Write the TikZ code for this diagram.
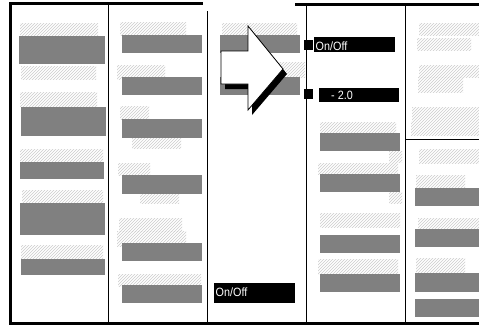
\documentclass[tikz,border=0pt]{standalone}
\usepackage{fontspec}
\newfontfamily\uifont[FakeStretch=0.9]{Liberation Sans}
\usetikzlibrary{patterns}
\definecolor{boxgray}{HTML}{808080}
\tikzset{
  gbox/.style={fill=boxgray},
  hbox/.style={pattern=north east lines, pattern color=black!20},
  frameline/.style={fill=black},
  colline/.style={draw=black, line width=1.5pt},
  lbl/.style={font=\uifont\fontsize{12}{14}\selectfont, text=white, inner sep=0pt},
}
\begin{document}
\begin{tikzpicture}[x=1pt,y=-1pt]
\useasboundingbox (0,0) rectangle (479,325);
\fill[white] (0,0) rectangle (479,325);
% ---- column 1
\path[hbox] (20,23) rectangle (98,36);
\path[gbox] (19,36) rectangle (105,64);
\path[hbox] (21,66) rectangle (96,79);
\path[hbox] (20,92) rectangle (97,106);
\path[gbox] (21,107) rectangle (106,136);
\path[hbox] (20,149) rectangle (103,161);
\path[gbox] (20,162) rectangle (104,179);
\path[hbox] (22,190) rectangle (103,203);
\path[gbox] (20,203) rectangle (105,235);
\path[hbox] (21,245) rectangle (103,259);
\path[gbox] (21,259) rectangle (105,275);
% ---- column 2
\path[hbox] (120,22) rectangle (186,35);
\path[gbox] (122,35) rectangle (202,53);
\path[hbox] (117,65) rectangle (165,79);
\path[gbox] (122,77) rectangle (202,95);
\path[hbox] (120,106) rectangle (149,119);
\path[gbox] (122,119) rectangle (202,138);
\path[hbox] (132,138) rectangle (181,148);
\path[hbox] (118,163) rectangle (150,175);
\path[gbox] (122,175) rectangle (202,194);
\path[hbox] (140,194) rectangle (179,203);
\path[hbox] (119,218) rectangle (182,231);
\path[hbox] (117,231) rectangle (186,246);
\path[gbox] (122,243) rectangle (202,261);
\path[hbox] (118,274) rectangle (201,286);
\path[gbox] (122,285) rectangle (202,303);
% ---- column 3
\path[hbox] (222,23) rectangle (297,35);
\path[gbox] (220,35) rectangle (300,53);
\path[hbox] (245,62) rectangle (305,77);
\path[gbox] (220,77) rectangle (300,95);
% arrow with shadow
\fill[black, shift={(4,5)}] (221,51) -- (248,51) -- (248,26) -- (283,69) -- (248,110) -- (248,84) -- (221,84) -- cycle;
\filldraw[fill=white, draw=black, line width=0.8pt, line join=miter] (221,51) -- (248,51) -- (248,26) -- (283,69) -- (248,110) -- (248,84) -- (221,84) -- cycle;
\fill[black] (214,283) rectangle (295,303);
\node[lbl, anchor=base west] (onoffB) at (215.5,296) {On/Off};
% ---- column 4
\fill[black] (303.5,40) rectangle (312.5,49.5);
\fill[black] (314,37) rectangle (395,52);
\node[lbl, anchor=base west] (onoffA) at (315.5,50) {On/Off};
\fill[black] (303.5,89) rectangle (312.5,98.5);
\fill[black] (319,88) rectangle (399,102);
\node[lbl, anchor=base west] (val) at (331,99.5) {- 2.0};
\path[hbox] (320,122) rectangle (396,133);
\path[gbox] (320,133) rectangle (400,151);
\path[hbox] (389,151) rectangle (402,162);
\path[hbox] (318,163) rectangle (398,174);
\path[gbox] (320,174) rectangle (400,192);
\path[hbox] (389,192) rectangle (402,203);
\path[hbox] (320,213) rectangle (400,227);
\path[gbox] (320,235) rectangle (400,253);
\path[hbox] (318,259) rectangle (398,274);
\path[gbox] (320,274) rectangle (400,292);
% ---- column 5
\path[hbox] (419,23) rectangle (479,35);
\path[hbox] (417,38) rectangle (471,50);
\path[hbox] (419,65) rectangle (479,77);
\path[hbox] (418,77) rectangle (463,92);
\path[hbox] (412,107) rectangle (479,120);
\path[hbox] (411,121) rectangle (479,135);
\path[hbox] (419,149) rectangle (479,163);
\path[hbox] (416,175) rectangle (465,187);
\path[gbox] (415,188) rectangle (479,206);
\path[hbox] (418,218) rectangle (479,229);
\path[gbox] (415,229) rectangle (479,247);
\path[hbox] (416,258) rectangle (465,273);
\path[gbox] (415,273) rectangle (479,292);
\path[gbox] (415,299) rectangle (479,317);
% ---- frame
\fill[frameline] (9,2) rectangle (203,5);
\fill[frameline] (295,3) rectangle (479,6);
\fill[frameline] (9,2) rectangle (12,325);
\fill[frameline] (9,322) rectangle (479,325);
\draw[colline] (108.3,5) -- (108.3,322);
\draw[colline] (207.3,11) -- (207.3,322);
\draw[colline] (306.7,6) -- (306.7,322);
\draw[colline] (405.7,6) -- (405.7,322);
\draw[colline] (405.7,139.5) -- (479,139.5);
\end{tikzpicture}
\end{document}
